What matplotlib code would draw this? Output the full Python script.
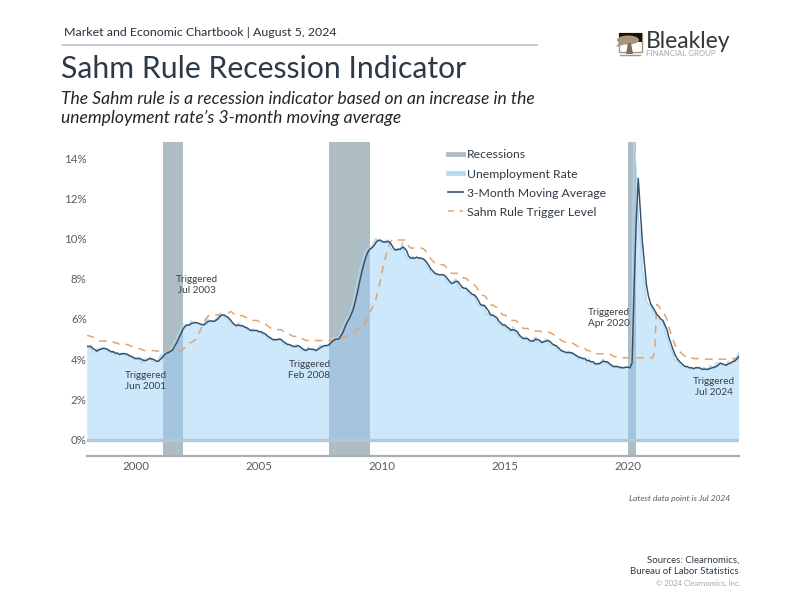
#!/usr/bin/env python3
import numpy as np
import pandas as pd
import matplotlib
matplotlib.use("Agg")
import matplotlib.pyplot as plt
from matplotlib.lines import Line2D
from matplotlib.patches import Rectangle, Ellipse, Polygon

# --- Data (monthly, Jan 1998 -> Jul 2024) ---
unemployment = [
    4.6, 4.6, 4.7, 4.3, 4.4, 4.5, 4.5, 4.5, 4.6, 4.5, 4.4, 4.4,
    4.3, 4.4, 4.2, 4.3, 4.2, 4.3, 4.3, 4.2, 4.2, 4.1, 4.1, 4.0,
    4.0, 4.1, 4.0, 3.8, 4.0, 4.0, 4.0, 4.1, 3.9, 3.9, 3.9, 3.9,
    4.2, 4.2, 4.3, 4.4, 4.3, 4.5, 4.6, 4.9, 5.0, 5.3, 5.5, 5.7,
    5.7, 5.7, 5.7, 5.9, 5.8, 5.8, 5.8, 5.7, 5.7, 5.7, 5.9, 6.0,
    5.8, 5.9, 5.9, 6.0, 6.1, 6.3, 6.2, 6.1, 6.1, 6.0, 5.8, 5.7,
    5.7, 5.6, 5.8, 5.6, 5.6, 5.6, 5.5, 5.4, 5.4, 5.5, 5.4, 5.4,
    5.3, 5.4, 5.2, 5.2, 5.1, 5.0, 5.0, 4.9, 5.0, 5.0, 5.0, 4.9,
    4.7, 4.8, 4.7, 4.7, 4.6, 4.6, 4.7, 4.7, 4.5, 4.4, 4.5, 4.4,
    4.6, 4.5, 4.4, 4.5, 4.4, 4.6, 4.7, 4.6, 4.7, 4.7, 4.7, 5.0,
    5.0, 4.9, 5.1, 5.0, 5.4, 5.6, 5.8, 6.1, 6.1, 6.5, 6.8, 7.3,
    7.8, 8.3, 8.7, 9.0, 9.4, 9.5, 9.5, 9.6, 9.8, 10.0, 9.9, 9.9,
    9.8, 9.8, 9.9, 9.9, 9.6, 9.4, 9.4, 9.5, 9.5, 9.4, 9.8, 9.3,
    9.1, 9.0, 9.0, 9.1, 9.0, 9.1, 9.0, 9.0, 9.0, 8.8, 8.6, 8.5,
    8.3, 8.3, 8.2, 8.2, 8.2, 8.2, 8.2, 8.0, 7.8, 7.8, 7.7, 7.9,
    8.0, 7.7, 7.5, 7.6, 7.5, 7.5, 7.3, 7.2, 7.2, 7.2, 6.9, 6.7,
    6.6, 6.7, 6.7, 6.2, 6.3, 6.1, 6.2, 6.1, 5.9, 5.7, 5.8, 5.6,
    5.7, 5.5, 5.4, 5.4, 5.6, 5.3, 5.2, 5.1, 5.0, 5.0, 5.1, 5.0,
    4.8, 4.9, 5.0, 5.1, 4.8, 4.9, 4.8, 4.9, 5.0, 4.9, 4.7, 4.7,
    4.7, 4.6, 4.4, 4.4, 4.4, 4.3, 4.3, 4.4, 4.3, 4.2, 4.2, 4.1,
    4.0, 4.1, 4.0, 4.0, 3.8, 4.0, 3.8, 3.8, 3.7, 3.8, 3.8, 3.9,
    4.0, 3.8, 3.8, 3.7, 3.6, 3.6, 3.7, 3.6, 3.5, 3.6, 3.6, 3.6,
    3.6, 3.5, 4.4, 14.8, 13.2, 11.0, 10.2, 8.4, 7.8, 6.9, 6.7, 6.7,
    6.4, 6.2, 6.1, 6.1, 5.8, 5.9, 5.4, 5.1, 4.7, 4.5, 4.2, 3.9,
    4.0, 3.8, 3.6, 3.7, 3.6, 3.6, 3.5, 3.6, 3.5, 3.6, 3.6, 3.5,
    3.4, 3.6, 3.5, 3.4, 3.7, 3.6, 3.5, 3.8, 3.8, 3.8, 3.7, 3.7,
    3.7, 3.9, 3.8, 3.9, 4.0, 4.1, 4.3,
]
moving_avg = [
    4.65, 4.63, 4.63, 4.53, 4.47, 4.40, 4.47, 4.50, 4.53, 4.53, 4.50, 4.43,
    4.37, 4.37, 4.30, 4.30, 4.23, 4.27, 4.27, 4.27, 4.23, 4.17, 4.13, 4.07,
    4.03, 4.03, 4.03, 3.97, 3.93, 3.93, 4.00, 4.03, 4.00, 3.97, 3.90, 3.90,
    4.00, 4.10, 4.23, 4.30, 4.33, 4.40, 4.47, 4.67, 4.83, 5.07, 5.27, 5.50,
    5.63, 5.70, 5.70, 5.77, 5.80, 5.83, 5.80, 5.77, 5.73, 5.70, 5.77, 5.87,
    5.90, 5.90, 5.87, 5.93, 6.00, 6.13, 6.20, 6.20, 6.13, 6.07, 5.97, 5.83,
    5.73, 5.67, 5.70, 5.67, 5.67, 5.60, 5.57, 5.50, 5.43, 5.43, 5.43, 5.43,
    5.37, 5.37, 5.30, 5.27, 5.17, 5.10, 5.03, 4.97, 4.97, 4.97, 5.00, 4.97,
    4.87, 4.80, 4.73, 4.73, 4.67, 4.63, 4.63, 4.67, 4.63, 4.53, 4.47, 4.43,
    4.50, 4.50, 4.50, 4.47, 4.43, 4.50, 4.57, 4.63, 4.67, 4.67, 4.70, 4.80,
    4.90, 4.97, 5.00, 5.00, 5.17, 5.33, 5.60, 5.83, 6.00, 6.23, 6.47, 6.87,
    7.30, 7.80, 8.27, 8.67, 9.03, 9.30, 9.47, 9.53, 9.63, 9.80, 9.90, 9.93,
    9.87, 9.83, 9.83, 9.87, 9.80, 9.63, 9.47, 9.43, 9.47, 9.47, 9.57, 9.53,
    9.40, 9.13, 9.03, 9.03, 9.03, 9.07, 9.03, 9.03, 9.00, 8.93, 8.80, 8.63,
    8.47, 8.37, 8.27, 8.23, 8.20, 8.20, 8.20, 8.13, 8.00, 7.87, 7.77, 7.80,
    7.87, 7.87, 7.73, 7.60, 7.53, 7.53, 7.43, 7.33, 7.23, 7.20, 7.10, 6.93,
    6.73, 6.67, 6.67, 6.53, 6.40, 6.20, 6.20, 6.13, 6.07, 5.90, 5.80, 5.70,
    5.70, 5.60, 5.53, 5.43, 5.47, 5.43, 5.37, 5.20, 5.10, 5.03, 5.03, 5.03,
    4.93, 4.90, 4.90, 5.00, 4.97, 4.93, 4.83, 4.87, 4.90, 4.93, 4.87, 4.77,
    4.70, 4.67, 4.57, 4.47, 4.40, 4.37, 4.33, 4.33, 4.33, 4.30, 4.23, 4.17,
    4.10, 4.07, 4.03, 4.03, 3.93, 3.93, 3.87, 3.87, 3.77, 3.77, 3.77, 3.83,
    3.90, 3.87, 3.87, 3.77, 3.70, 3.63, 3.63, 3.63, 3.60, 3.57, 3.57, 3.60,
    3.60, 3.57, 3.83, 7.57, 10.80, 13.00, 11.47, 9.87, 8.80, 7.70, 7.13, 6.77,
    6.60, 6.43, 6.23, 6.13, 6.00, 5.93, 5.70, 5.47, 5.07, 4.77, 4.47, 4.20,
    4.03, 3.90, 3.80, 3.70, 3.63, 3.63, 3.57, 3.57, 3.53, 3.57, 3.57, 3.57,
    3.50, 3.50, 3.50, 3.50, 3.53, 3.57, 3.60, 3.63, 3.70, 3.80, 3.77, 3.73,
    3.70, 3.77, 3.80, 3.87, 3.90, 4.00, 4.13,
]
trigger = [
    5.17, 5.17, 5.13, 5.10, 5.03, 4.97, 4.90, 4.90, 4.90, 4.90, 4.90, 4.90,
    4.87, 4.87, 4.80, 4.80, 4.73, 4.73, 4.73, 4.73, 4.73, 4.67, 4.63, 4.57,
    4.53, 4.53, 4.53, 4.47, 4.43, 4.43, 4.43, 4.43, 4.43, 4.43, 4.40, 4.40,
    4.40, 4.40, 4.40, 4.40, 4.40, 4.40, 4.40, 4.40, 4.40, 4.40, 4.40, 4.50,
    4.60, 4.73, 4.80, 4.83, 4.90, 4.97, 5.17, 5.33, 5.57, 5.77, 6.00, 6.13,
    6.20, 6.20, 6.20, 6.20, 6.20, 6.20, 6.20, 6.20, 6.20, 6.27, 6.37, 6.33,
    6.23, 6.17, 6.17, 6.17, 6.17, 6.10, 6.07, 6.00, 5.93, 5.93, 5.93, 5.93,
    5.87, 5.87, 5.80, 5.77, 5.67, 5.60, 5.53, 5.47, 5.47, 5.47, 5.47, 5.47,
    5.37, 5.30, 5.23, 5.23, 5.17, 5.13, 5.13, 5.13, 5.13, 5.03, 4.97, 4.93,
    4.93, 4.93, 4.93, 4.93, 4.93, 4.93, 4.93, 4.93, 4.93, 4.93, 4.93, 4.93,
    4.93, 4.93, 4.93, 4.93, 5.00, 5.07, 5.13, 5.17, 5.17, 5.20, 5.30, 5.40,
    5.47, 5.50, 5.50, 5.67, 5.83, 6.10, 6.33, 6.50, 6.73, 6.97, 7.37, 7.80,
    8.30, 8.77, 9.17, 9.53, 9.80, 9.97, 9.97, 9.93, 9.93, 9.93, 9.93, 9.93,
    9.90, 9.63, 9.53, 9.53, 9.53, 9.53, 9.53, 9.53, 9.50, 9.43, 9.30, 9.13,
    8.97, 8.87, 8.77, 8.73, 8.70, 8.70, 8.70, 8.63, 8.50, 8.37, 8.27, 8.27,
    8.27, 8.27, 8.23, 8.10, 8.03, 8.03, 7.93, 7.83, 7.73, 7.70, 7.60, 7.43,
    7.23, 7.17, 7.17, 7.03, 6.90, 6.70, 6.70, 6.63, 6.57, 6.40, 6.30, 6.20,
    6.20, 6.10, 6.03, 5.93, 5.93, 5.93, 5.87, 5.70, 5.60, 5.53, 5.53, 5.53,
    5.43, 5.40, 5.40, 5.40, 5.40, 5.40, 5.33, 5.33, 5.33, 5.33, 5.33, 5.27,
    5.20, 5.17, 5.07, 4.97, 4.90, 4.87, 4.83, 4.83, 4.83, 4.80, 4.73, 4.67,
    4.60, 4.57, 4.53, 4.53, 4.43, 4.43, 4.37, 4.37, 4.27, 4.27, 4.27, 4.27,
    4.27, 4.27, 4.27, 4.27, 4.20, 4.13, 4.13, 4.13, 4.10, 4.07, 4.07, 4.07,
    4.07, 4.07, 4.07, 4.07, 4.07, 4.07, 4.07, 4.07, 4.07, 4.07, 4.07, 4.07,
    4.07, 4.33, 6.73, 6.63, 6.50, 6.43, 6.20, 5.97, 5.57, 5.27, 4.97, 4.70,
    4.53, 4.40, 4.30, 4.20, 4.13, 4.13, 4.07, 4.07, 4.03, 4.03, 4.03, 4.03,
    4.00, 4.00, 4.00, 4.00, 4.00, 4.00, 4.00, 4.00, 4.00, 4.00, 4.00, 4.00,
    4.00, 4.00, 4.00, 4.03, 4.03, 4.03, 4.03,
]
recession_start = [2001.10, 2007.85, 2020.02]
recession_end = [2001.90, 2009.50, 2020.33]
y_ticks = [0, 2, 4, 6, 8, 10, 12, 14]
x_ticks = [2000, 2005, 2010, 2015, 2020]
trigger_notes = [
    ("Triggered\nJun 2001", 145.5, 381),
    ("Triggered\nJul 2003", 196.5, 285),
    ("Triggered\nFeb 2008", 309.5, 370),
    ("Triggered\nApr 2020", 608.5, 318),
    ("Triggered\nJul 2024", 713.5, 387),
]

# --- Couleurs ---
C_FILL = "#cde7fb"
C_EDGE = "#b6dcf8"
C_BAND = "#aebcc3"
C_BAND_FILL = "#a5c4de"
C_MA = "#3b4f63"
C_TRIGGER = "#e2a56e"
C_TEXT = "#2f3a45"

W, H = 800, 601
plt.rcParams["font.family"] = ["Lato", "DejaVu Sans"]
fig = plt.figure(figsize=(W / 100, H / 100), dpi=100)

# zone du graphique, en pixels
left, right, top, bottom = 86.7, 738.7, 142, 456
ax = fig.add_axes([left / W, 1 - bottom / H, (right - left) / W, (bottom - top) / H])

dates = pd.date_range("1998-01-01", periods=len(unemployment), freq="MS")
x = dates.year + dates.month.values / 12 - 1 / 12

for s, e in zip(recession_start, recession_end):
    ax.axvspan(s, e, color=C_BAND, lw=0, zorder=1)
area = ax.fill_between(x, 0, unemployment, color=C_FILL, lw=0, zorder=2)
ax.plot(x, unemployment, color=C_EDGE, lw=1.2, zorder=2.5)
for s, e in zip(recession_start, recession_end):
    span = ax.axvspan(s, e, color=C_BAND_FILL, lw=0, zorder=3)
    span.set_clip_path(area.get_paths()[0], area.get_transform())
ax.axhline(0, color="#b3c9da", lw=2.4, zorder=4)
ax.plot(x, trigger, color=C_TRIGGER, lw=1.1, dashes=(5, 4), zorder=5)
ax.plot(x, moving_avg, color=C_MA, lw=1.05, zorder=6)

ax.set_xlim(1998, 2024.5)
ax.set_ylim(-0.82, 14.81)
ax.set_yticks(y_ticks)
ax.set_yticklabels([f"{v}%" for v in y_ticks])
ax.set_xticks(x_ticks)
ax.tick_params(axis="both", length=0, labelsize=8.3, labelcolor="#555c63")
ax.tick_params(axis="y", pad=0)
ax.tick_params(axis="x", pad=3.5)
for side in ("top", "left", "right"):
    ax.spines[side].set_visible(False)
ax.spines["bottom"].set_color("#a9b0b5")
ax.spines["bottom"].set_linewidth(1.6)

# Légende
handles = [
    Line2D([], [], color=C_BAND, lw=3.5),
    Line2D([], [], color=C_EDGE, lw=3.5),
    Line2D([], [], color=C_MA, lw=1.2),
    Line2D([], [], color=C_TRIGGER, lw=1.1, dashes=(4, 3.5)),
]
labels = ["Recessions", "Unemployment Rate", "3-Month Moving Average", "Sahm Rule Trigger Level"]
ax.legend(handles, labels, loc="upper left", bbox_to_anchor=(448 / W, 1 - 149.5 / H),
          bbox_transform=fig.transFigure, frameon=False, fontsize=8.8, labelcolor=C_TEXT,
          handlelength=1.22, handletextpad=0.33, labelspacing=0.66, borderpad=0, borderaxespad=0)

# Calque en pixels pour les textes autour du graphique
over = fig.add_axes([0, 0, 1, 1], zorder=10)
over.set_xlim(0, W)
over.set_ylim(H, 0)
over.axis("off")

over.text(64, 32.5, "Market and Economic Chartbook | August 5, 2024", fontsize=8.95,
          color="#2a2f35", va="center")
over.plot([62, 537], [44.5, 44.5], color="#b9c6d2", lw=1.2)
over.text(61, 69, "Sahm Rule Recession Indicator", fontsize=21.7, color="#2b3a48", va="center")
over.text(61, 98.5, "The Sahm rule is a recession indicator based on an increase in the",
          fontsize=12.65, style="italic", color="#20262c", va="center")
over.text(61, 118, "unemployment rate\u2019s 3-month moving average",
          fontsize=12.65, style="italic", color="#20262c", va="center")

for txt, px, py in trigger_notes:
    over.text(px, py, txt, fontsize=7.2, color="#3a4046", ha="center", va="center",
              linespacing=1.3)

over.text(730, 498.5, "Latest data point is Jul 2024", fontsize=6.1, style="italic",
          color="#555c63", ha="right", va="center")
over.text(739, 560, "Sources: Clearnomics,", fontsize=6.9, color="#2f3a45", ha="right", va="center")
over.text(739, 571, "Bureau of Labor Statistics", fontsize=6.9, color="#2f3a45", ha="right", va="center")
over.text(740, 583, "\u00a9 2024 Clearnomics, Inc.", fontsize=5.5, color="#a4a8ac", ha="right", va="center")

# Logo
over.add_patch(Rectangle((619, 33), 23, 19, fc="white", ec="#a8957c", lw=1))
over.add_patch(Rectangle((619, 33), 23, 9, fc="#17140f", lw=0))
over.add_patch(Ellipse((628, 40), 22, 9, fc="#a8957c", lw=0))
over.add_patch(Polygon([(616, 47), (622, 38), (626, 44)], fc="#a8957c", lw=0))
over.add_patch(Polygon([(628, 43), (631, 43), (633, 54), (626, 54)], fc="#7d6c58", lw=0))
over.plot([620, 640], [55, 55], color="#a8957c", lw=1)
over.text(646, 41, "Bleakley", fontsize=16.5, color="#33373b", ha="left", va="center")
over.text(646, 53, "FINANCIAL GROUP", fontsize=5.6, color="#a9a9a5", ha="left", va="center")

plt.savefig("out.png", dpi=100)
plt.close()
